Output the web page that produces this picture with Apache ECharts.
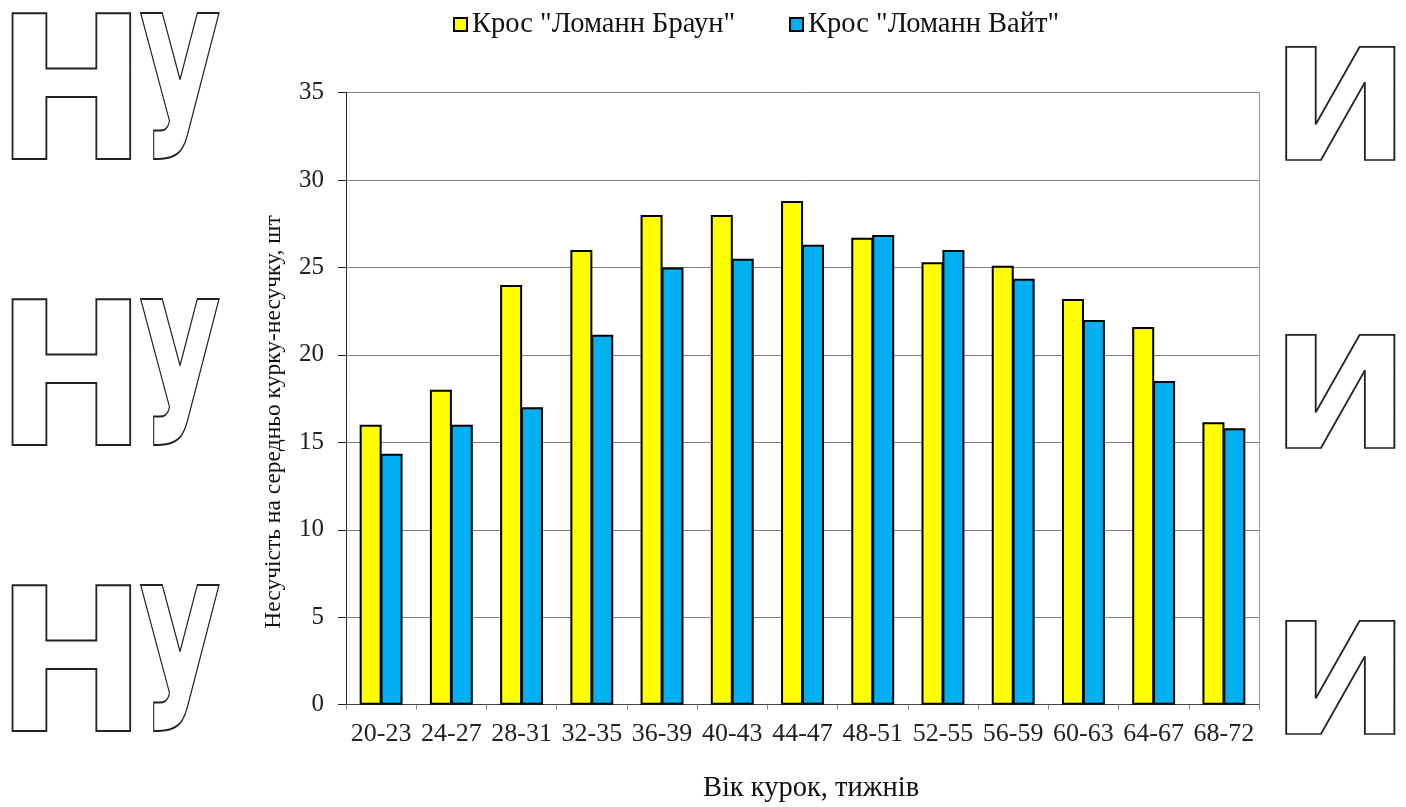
<!DOCTYPE html>
<html>
<head>
<meta charset="utf-8">
<script src="https://cdn.jsdelivr.net/npm/echarts@6/dist/echarts.min.js"></script>
<style>
  html, body { margin: 0; padding: 0; background: #fff; }
  #chart { width: 1406px; height: 807px; }
</style>
</head>
<body>
<div id="chart"></div>
<script>
var ageGroups = ['20-23', '24-27', '28-31', '32-35', '36-39', '40-43', '44-47',
    '48-51', '52-55', '56-59', '60-63', '64-67', '68-72'];
var brownValues = [16.0, 18.0, 24.0, 26.0, 28.0, 28.0, 28.8, 26.7, 25.3, 25.1, 23.2, 21.6, 16.15];
var whiteValues = [14.35, 16.0, 17.0, 21.15, 25.0, 25.5, 26.3, 26.85, 26.0, 24.35, 22.0, 18.5, 15.8];
var seriesNames = ['Крос "Ломанн Браун"', 'Крос "Ломанн Вайт"'];

var chart = echarts.init(document.getElementById('chart'));
var serif = 'Liberation Serif';
var outline = { fill: 'rgba(0,0,0,0)', stroke: '#222', lineWidth: 2 };

// outlined watermark letters on both sides
var marks = [];
[6, 292, 578].forEach(function (y, i) {
    marks.push({
        type: 'text', left: -5, top: y, z: -1, scaleX: 0.9,
        style: echarts.util.extend({ text: 'Н', font: 'bold 200px DejaVu Sans' }, outline)
    });
    marks.push({
        type: 'text', left: 137, top: y, z: -1, scaleX: 0.55,
        style: echarts.util.extend({ text: 'У', font: 'bold 200px DejaVu Sans' }, outline)
    });
    marks.push({
        type: 'text', left: 1270, top: y + 36 + (i ? 2 : 0), z: -1,
        scaleX: 0.92, scaleY: 0.86,
        style: echarts.util.extend({ text: 'И', font: 'bold 180px DejaVu Sans' }, outline)
    });
});

// axis titles, placed like the original
marks.push({
    type: 'text', x: 274, y: 422, rotation: Math.PI / 2,
    style: {
        text: 'Несучість на середньо курку-несучку, шт', font: '23.5px ' + serif, fill: '#111',
        textAlign: 'center', textVerticalAlign: 'middle'
    }
});
marks.push({
    type: 'text', x: 811, y: 789,
    style: {
        text: 'Вік курок, тижнів', font: '28.5px ' + serif, fill: '#111',
        textAlign: 'center', textVerticalAlign: 'middle'
    }
});

var option = {
    backgroundColor: '#fff',
    animation: false,
    graphic: marks,
    legend: {
        top: 5,
        left: 448,
        itemWidth: 13,
        itemHeight: 13,
        itemGap: 54,
        itemTextGap: 6,
        icon: 'rect',
        textStyle: { fontFamily: serif, fontSize: 28.5, color: '#111' },
        data: seriesNames
    },
    grid: { left: 346, right: 147, top: 92.5, bottom: 102.3 },
    xAxis: {
        type: 'category',
        data: ageGroups,
        axisLine: { lineStyle: { color: '#444', width: 1 } },
        axisTick: { show: true, length: 5, lineStyle: { color: '#888' } },
        axisLabel: { fontFamily: serif, fontSize: 26, color: '#222', margin: 16, interval: 0 }
    },
    yAxis: [{
        type: 'value',
        min: 0,
        max: 35,
        interval: 5,
        axisLine: { show: true, lineStyle: { color: '#222', width: 1 } },
        axisTick: { show: true, length: 8, lineStyle: { color: '#222' } },
        axisLabel: { fontFamily: serif, fontSize: 25, color: '#222', margin: 22 },
        splitLine: { lineStyle: { color: '#808080', width: 1 } }
    }, {
        type: 'value',
        min: 0,
        max: 35,
        position: 'right',
        axisLine: { show: true, lineStyle: { color: '#999' } },
        axisTick: { show: false },
        axisLabel: { show: false },
        splitLine: { show: false }
    }],
    series: [{
        name: seriesNames[0],
        type: 'bar',
        data: brownValues,
        barWidth: 22,
        barGap: '-5%',
        itemStyle: { color: '#FFFF00', borderColor: '#000', borderWidth: 2 }
    }, {
        name: seriesNames[1],
        type: 'bar',
        data: whiteValues,
        barWidth: 22,
        barGap: '-5%',
        itemStyle: { color: '#00B0F0', borderColor: '#000', borderWidth: 2 }
    }]
};

chart.setOption(option);
window.onresize = function () { chart.resize(); };
</script>
</body>
</html>
